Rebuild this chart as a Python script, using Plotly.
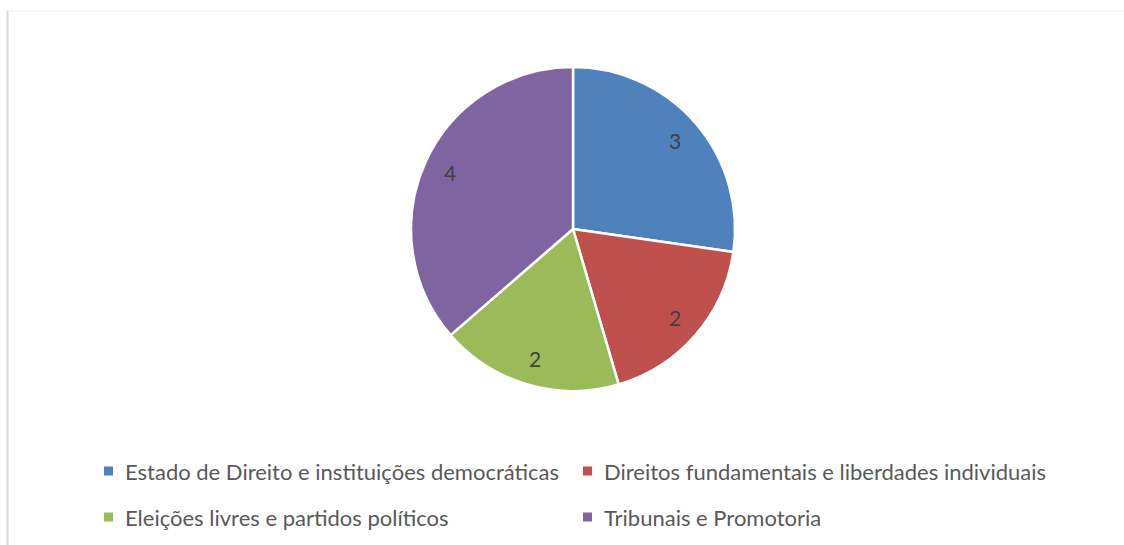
import math
import plotly.graph_objects as go

categories = [
    "Estado de Direito e instituições democráticas",
    "Direitos fundamentais e liberdades individuais",
    "Eleições livres e partidos políticos",
    "Tribunais e Promotoria",
]
values = [3, 2, 2, 4]
colors = ["#4F81BD", "#C0504D", "#9BBB59", "#8064A2"]

W, H = 1124, 545
cx, cy, R = 573, 229, 162

fig = go.Figure()
fig.add_trace(go.Pie(
    labels=categories, values=values, sort=False, direction="clockwise",
    rotation=0, marker=dict(colors=colors, line=dict(color="white", width=2.5)),
    textinfo="none", hoverinfo="label+value", showlegend=False,
    domain=dict(x=[(cx - R) / W, (cx + R) / W], y=[(H - cy - R) / H, (H - cy + R) / H]),
))

annotations = []
shapes = []
total = sum(values)
cum = 0
for v in values:
    mid = (cum + v / 2) / total * 2 * math.pi
    cum += v
    rr = 135
    px = cx + rr * math.sin(mid)
    py = cy - rr * math.cos(mid)
    annotations.append(dict(x=px / W, y=1 - py / H, xref="paper", yref="paper",
                            xanchor="center", yanchor="middle",
                            text=str(v), showarrow=False,
                            font=dict(family="Lato", size=21, color="#404040")))

# custom legend
leg_pos = [(104, 471), (583, 471), (104, 517), (583, 517)]
for (lx, ly), cat, col in zip(leg_pos, categories, colors):
    shapes.append(dict(type="rect", xref="paper", yref="paper",
                       x0=lx / W, x1=(lx + 9) / W, y0=1 - (ly + 4.5) / H, y1=1 - (ly - 4.5) / H,
                       fillcolor=col, line=dict(width=0)))
    annotations.append(dict(x=(lx + 19) / W, y=1 - ly / H, xref="paper", yref="paper",
                            xanchor="left", yanchor="middle", text=cat, showarrow=False,
                            font=dict(family="Lato", size=22, color="#595959")))

# chart border
shapes.append(dict(type="line", xref="paper", yref="paper", x0=7.5 / W, x1=7.5 / W,
                   y0=0, y1=1 - 11 / H, line=dict(color="#D9D9D9", width=2)))
shapes.append(dict(type="line", xref="paper", yref="paper", x0=7 / W, x1=1,
                   y0=1 - 11 / H, y1=1 - 11 / H, line=dict(color="#F2F2F2", width=1)))

fig.update_layout(
    width=W, height=H, margin=dict(l=0, r=0, t=0, b=0),
    paper_bgcolor="white", plot_bgcolor="white",
    annotations=annotations, shapes=shapes,
)
fig.write_html("out.html")
